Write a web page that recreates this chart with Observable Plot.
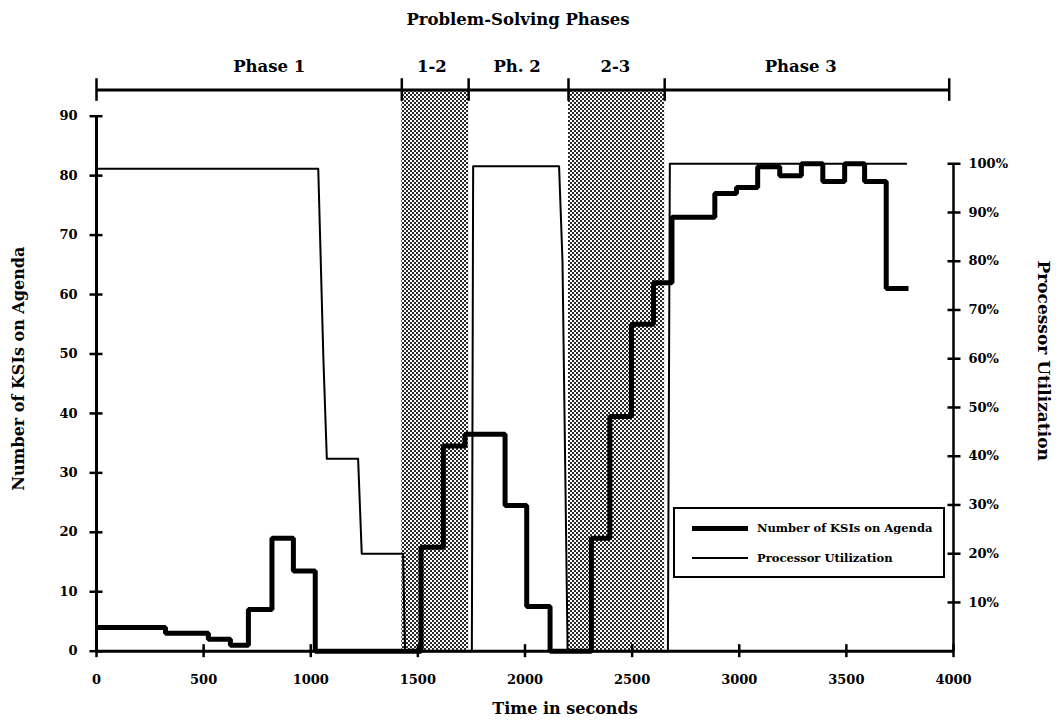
<!DOCTYPE html>
<html>
<head>
<meta charset="utf-8">
<script src="https://cdn.jsdelivr.net/npm/d3@7"></script>
<script src="https://cdn.jsdelivr.net/npm/@observablehq/plot@0.6"></script>
<style>
  body { margin: 0; background: #fff; }
  #wrap { position: relative; width: 1056px; height: 725px; font-family: "DejaVu Serif", serif; font-weight: bold; color: #000; }
  #title { width: 1036px; height: 40px; line-height: 40px; text-align: center; font-size: 16.5px; }
  #legend { position: absolute; left: 673px; top: 507px; width: 272px; height: 71px; box-sizing: border-box; border: 2px solid #000; background: #fff; font-size: 11.5px; }
  .lrow { position: absolute; left: 0; display: flex; align-items: center; height: 20px; }
  .lline { position: absolute; left: 17px; width: 56px; background: #000; }
  .ltext { position: absolute; left: 82px; white-space: nowrap; }
</style>
</head>
<body>
<div id="wrap">
  <div id="title">Problem-Solving Phases</div>
  <div id="chart"></div>
  <div id="legend"></div>
</div>
<script>
// ---- Data ----
// Number of KSIs on Agenda: step function (value holds from each time until the next)
const ksiTime  = [0, 322, 522, 625, 709, 819, 919, 1021, 1515, 1619, 1720, 1907, 2008, 2117, 2310, 2396, 2497, 2600, 2686, 2886, 2987, 3086, 3189, 3290, 3390, 3492, 3585, 3686, 3790];
const ksiCount = [4,   3,   2,   1,   7,   19,  13.5, 0,   17.5, 34.5, 36.5, 24.5, 7.5,  0,    19,   39.5, 55,   62,   73,   77,   78,   81.5, 80,   82,   79,   82,   79,   61,   61];

// Processor Utilization (percent), polyline
const utilTime = [0,  1035, 1059, 1075, 1221, 1238, 1431, 1440, 1752, 1758, 2159, 2175, 2199, 2667, 2676, 3779];
const utilPct  = [99, 99,   60,   39.5, 39.5, 20,   20,   0,    0,    99.5, 99.5, 80,   0,    0,    100,  100];

// Problem-solving phases
const phaseLabel = ["Phase 1", "1-2", "Ph. 2", "2-3", "Phase 3"];
const phaseStart = [0, 1425, 1737, 2203, 2652];
const phaseEnd   = [1425, 1737, 2203, 2652, 3980];
const phaseLabelTime = [806, 1565, 1963, 2422, 3287];
const phaseShaded = [false, true, false, true, false];

// Axis ticks
const xTicks = [0, 500, 1000, 1500, 2000, 2500, 3000, 3500, 4000];
const leftTicks = [0, 10, 20, 30, 40, 50, 60, 70, 80, 90];
const rightTicks = [10, 20, 30, 40, 50, 60, 70, 80, 90, 100];

// ---- Derived tables ----
const pctToLeft = 0.82;      // 100% on the right axis sits at 82 on the left axis
const barLevel = 94.4;       // level of the phase bar (left-axis units)
const labelLevel = 98.4;     // level of the phase labels
const ksi = ksiTime.map((t, i) => ({t, v: ksiCount[i]}));
const util = utilTime.map((t, i) => ({t, v: utilPct[i] * pctToLeft}));
const phases = phaseLabel.map((label, i) => ({label, start: phaseStart[i], end: phaseEnd[i], lx: phaseLabelTime[i], shaded: phaseShaded[i]}));
const bounds = [phaseStart[0], ...phaseEnd];

const chart = Plot.plot({
  width: 1056,
  height: 685,
  marginLeft: 96,
  marginRight: 103,
  marginTop: 75.7,
  marginBottom: 74.3,
  x: {domain: [0, 4000]},
  y: {domain: [0, 90]},
  style: {fontFamily: "DejaVu Serif", fontWeight: "bold", fontSize: "13px", color: "#000", background: "#fff", overflow: "visible"},
  marks: [
    Plot.rect(phases.filter(d => d.shaded), {x1: "start", x2: "end", y1: 0, y2: barLevel, fill: "#888"}),
    // phase bar
    Plot.ruleY([barLevel], {x1: bounds[0], x2: bounds[bounds.length - 1], strokeWidth: 3}),
    Plot.ruleX(bounds, {x: d => d, y1: barLevel - 1.9, y2: barLevel + 1.9, strokeWidth: 2.5}),
    Plot.text(phases, {x: "lx", y: labelLevel, text: "label", fontSize: 16.5, fontWeight: "bold"}),
    // axes lines
    Plot.ruleX([0], {y1: 0, y2: 90, strokeWidth: 3}),
    Plot.ruleY([0], {x1: 0, x2: 4000, strokeWidth: 3}),
    Plot.ruleX([4000], {y1: 0, y2: 100 * pctToLeft, strokeWidth: 2.5}),
    Plot.axisY({anchor: "left", ticks: leftTicks, tickSize: 13, dx: 6.5, tickPadding: 12.5, strokeWidth: 2.5, label: null, tickFormat: d => String(d)}),
    Plot.axisY({anchor: "right", ticks: rightTicks.map(p => p * pctToLeft), tickSize: 13, dx: -6.5, tickPadding: 8.5, strokeWidth: 2.5, label: null, tickFormat: d => Math.round(d / pctToLeft) + "%"}),
    Plot.axisX({anchor: "bottom", ticks: xTicks, tickSize: 13, dy: -6.5, tickPadding: 17, strokeWidth: 2.5, label: null, tickFormat: d => String(d)}),
    // series
    Plot.line(util, {x: "t", y: "v", stroke: "#000", strokeWidth: 2}),
    Plot.line(ksi, {x: "t", y: "v", curve: "step-after", stroke: "#000", strokeWidth: 5, strokeLinejoin: "miter", strokeLinecap: "butt"}),
    // axis titles
    Plot.text(["Number of KSIs on Agenda"], {frameAnchor: "left", textAnchor: "middle", text: d => d, rotate: -90, dx: -78, dy: -15, fontSize: 16, fontWeight: "bold"}),
    Plot.text(["Processor Utilization"], {frameAnchor: "right", textAnchor: "middle", text: d => d, rotate: 90, dx: 90, dy: -23, fontSize: 17, fontWeight: "bold"}),
    Plot.text(["Time in seconds"], {frameAnchor: "bottom", textAnchor: "middle", text: d => d, dx: 40, dy: 63, fontSize: 16, fontWeight: "bold"})
  ]
});
document.getElementById("chart").appendChild(chart);

// halftone pattern for transition bands
const ns = "http://www.w3.org/2000/svg";
const defs = document.createElementNS(ns, "defs");
const pat = document.createElementNS(ns, "pattern");
pat.setAttribute("id", "halftone");
pat.setAttribute("width", "4");
pat.setAttribute("height", "4");
pat.setAttribute("patternUnits", "userSpaceOnUse");
[["0","0","4","4","#ffffff"],["0","0","2","2","#2a2a2a"],["2","2","2","2","#2a2a2a"]].forEach(([x,y,w,h,f]) => {
  const r = document.createElementNS(ns, "rect");
  r.setAttribute("x", x); r.setAttribute("y", y); r.setAttribute("width", w); r.setAttribute("height", h); r.setAttribute("fill", f);
  pat.appendChild(r);
});
defs.appendChild(pat);
chart.insertBefore(defs, chart.firstChild);
chart.querySelectorAll('g[aria-label="rect"] rect').forEach(r => r.setAttribute("fill", "url(#halftone)"));
chart.querySelectorAll('g[aria-label="rect"]').forEach(g => g.setAttribute("fill", "url(#halftone)"));

// legend
const legendItems = [{label: "Number of KSIs on Agenda", width: 5}, {label: "Processor Utilization", width: 2}];
const legend = document.getElementById("legend");
legendItems.forEach((d, i) => {
  const row = document.createElement("div");
  row.className = "lrow";
  row.style.top = (9 + i * 30) + "px";
  row.style.width = "268px";
  const line = document.createElement("div");
  line.className = "lline";
  line.style.height = d.width + "px";
  line.style.top = (10 - d.width / 2) + "px";
  const txt = document.createElement("div");
  txt.className = "ltext";
  txt.textContent = d.label;
  row.appendChild(line);
  row.appendChild(txt);
  legend.appendChild(row);
});
</script>
</body>
</html>
